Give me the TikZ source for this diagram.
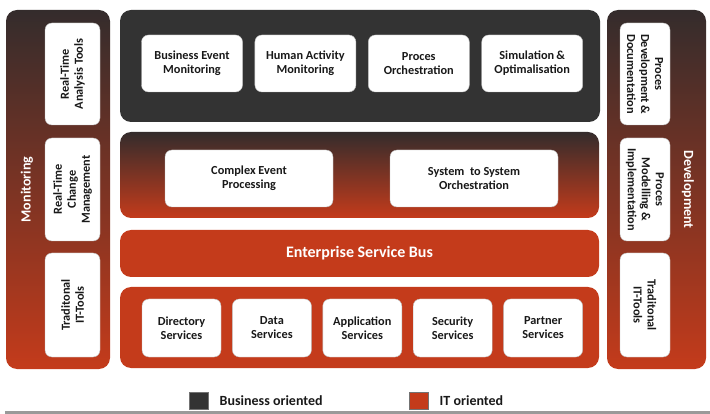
\documentclass[tikz,border=0pt]{standalone}
\usepackage{fontspec}
\setmainfont{Carlito}
\usetikzlibrary{positioning}
\definecolor{bizdark}{HTML}{333333}
\definecolor{itred}{HTML}{C43B1B}
\definecolor{gradtop}{HTML}{342C2C}
\definecolor{gradmid}{HTML}{9A331E}

\begin{document}
\begin{tikzpicture}[x=1pt,y=-1pt,
    panel/.style={rounded corners=11pt,inner sep=0pt},
    darkpanel/.style={panel,fill=bizdark},
    redpanel/.style={panel,fill=itred},
    gradpanel/.style={panel,top color=gradtop,middle color=gradmid,bottom color=itred},
    box/.style={draw=black!25,fill=white,rounded corners=7pt,align=center,inner sep=2pt,
      text=black!90,font=\bfseries\fontsize{12.3}{14}\selectfont},
    title/.style={text=white,font=\bfseries\fontsize{14}{16}\selectfont},
    legend/.style={draw=black!55,minimum width=19pt,minimum height=17pt,inner sep=0pt},
    legtext/.style={font=\bfseries\fontsize{14}{16}\selectfont,text=black!90}]
  \useasboundingbox (0,0) rectangle (710,414);

  % side panels
  \node[gradpanel,minimum width=104pt,minimum height=359pt] (mon) at (58,189.5) {};
  \node[gradpanel,minimum width=99pt,minimum height=359pt] (dev) at (656.5,189.5) {};
  \node[title,rotate=90] (mon_t) at (27,189.5) {Monitoring};
  \node[title,rotate=-90] (dev_t) at (688,189.5) {Development};

  \node[box,rotate=90,minimum width=102pt,minimum height=55pt] (mon_1) at (72.5,74) {Real-Time\\Analysis Tools};
  \node[box,rotate=90,minimum width=103pt,minimum height=55pt] (mon_2) at (72.5,189.5) {Real-Time\\Change\\Management};
  \node[box,rotate=90,minimum width=104pt,minimum height=55pt] (mon_3) at (72.5,305) {Traditonal\\IT-Tools};

  \node[box,rotate=-90,minimum width=102pt,minimum height=50pt] (dev_1) at (645,74) {Proces\\Development\,\&\\Documentation};
  \node[box,rotate=-90,minimum width=103pt,minimum height=50pt] (dev_2) at (645,189.5) {Proces\\Modelling \&\\Implementation};
  \node[box,rotate=-90,minimum width=104pt,minimum height=50pt] (dev_3) at (645,305) {Traditonal\\IT-Tools};

  % business layer
  \node[darkpanel,minimum width=480pt,minimum height=112pt] (biz) at (360,66) {};
  \node[box,minimum width=101pt,minimum height=57pt] (biz_1) at (192,63.5) {Business Event\\Monitoring};
  \node[box,minimum width=101pt,minimum height=57pt] (biz_2) [right=12pt of biz_1] {Human Activity\\Monitoring};
  \node[box,minimum width=101pt,minimum height=57pt] (biz_3) [right=12pt of biz_2] {Proces\\Orchestration};
  \node[box,minimum width=101pt,minimum height=57pt] (biz_4) [right=12pt of biz_3] {Simulation\,\&\\Optimalisation};

  % integration layer
  \node[gradpanel,minimum width=479pt,minimum height=86pt] (cep) at (359.5,175) {};
  \node[box,minimum width=168pt,minimum height=57pt] (cep_1) at (249,178.5) {Complex Event\\Processing};
  \node[box,minimum width=168pt,minimum height=57pt] (cep_2) at (474,178.5) {System~ to System\\Orchestration};

  \node[redpanel,minimum width=479pt,minimum height=47pt,title,font=\bfseries\fontsize{16}{18}\selectfont] (esb) at (359.5,253.5) {Enterprise Service Bus};

  % service layer
  \node[redpanel,minimum width=479pt,minimum height=81pt] (srv) at (359.5,327.5) {};
  \node[box,minimum width=79pt,minimum height=58pt] (srv_1) at (181.5,328) {Directory\\Services};
  \node[box,minimum width=79pt,minimum height=58pt] (srv_2) [right=11pt of srv_1] {Data\\Services};
  \node[box,minimum width=79pt,minimum height=58pt] (srv_3) [right=11pt of srv_2] {Application\\Services};
  \node[box,minimum width=79pt,minimum height=58pt] (srv_4) [right=11pt of srv_3] {Security\\Services};
  \node[box,minimum width=79pt,minimum height=58pt] (srv_5) [right=11pt of srv_4] {Partner\\Services};

  % legend
  \node[legend,fill=bizdark] (leg_biz) at (198.5,400.5) {};
  \node[legtext,right=8pt of leg_biz] (leg_biz_t) {Business oriented};
  \node[legend,fill=itred] (leg_it) at (418.5,400.5) {};
  \node[legtext,right=8pt of leg_it] (leg_it_t) {IT oriented};

  \fill[black!40] (5,411) rectangle (710,414);
\end{tikzpicture}
\end{document}
